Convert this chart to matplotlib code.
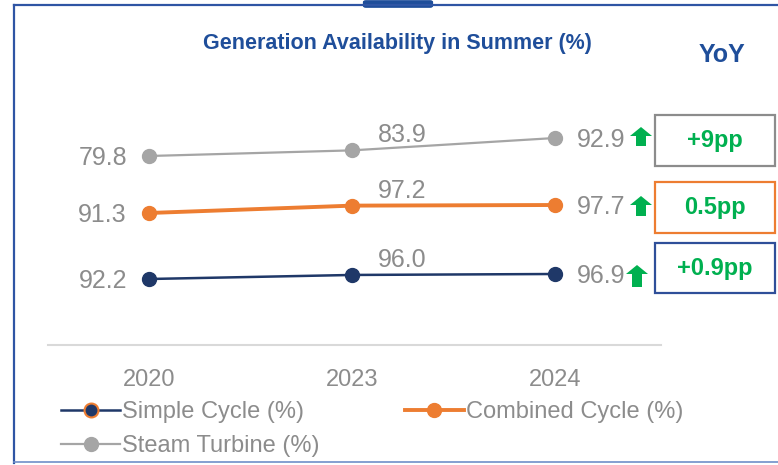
import matplotlib
matplotlib.use('Agg')
import matplotlib.pyplot as plt
from matplotlib.patches import Rectangle, Polygon, FancyBboxPatch
from matplotlib.lines import Line2D

# data
years = ['2020', '2023', '2024']
simple = [92.2, 96.0, 96.9]
combined = [91.3, 97.2, 97.7]
steam = [79.8, 83.9, 92.9]
yoy_steam = '+9pp'
yoy_combined = '0.5pp'
yoy_simple = '+0.9pp'

W, H = 778, 465
NARROW = ['Liberation Sans Narrow', 'Liberation Sans', 'DejaVu Sans']
BLUE = '#1F4E9A'
NAVY = '#1F3868'
ORANGE = '#ED7D31'
GREY = '#A5A5A5'
TXT = '#8C8C8C'
GREEN = '#00B050'

def fx(px):
    return px / W

def fy(py):
    return 1 - py / H

fig = plt.figure(figsize=(W / 100, H / 100), dpi=100)

# plot area in pixels
L, R, T, B = 48, 661, 100, 345
ax = fig.add_axes([fx(L), fy(B), fx(R) - fx(L), fy(T) - fy(B)])
x = list(range(len(years)))
# category 0 at px 149, category 2 at px 555
step = (555 - 149) / 2
ax.set_xlim(-(149 - L) / step, 2 + (R - 555) / step)

def band_limits(vals, p_first, p_last):
    # each series gets its own y scale so the three lines sit in separate bands
    s = (vals[-1] - vals[0]) / (p_first - p_last)
    return vals[0] - (B - p_first) * s, vals[0] + (p_first - T) * s

series = [
    (steam, GREY, 1.6, (156, 138)),
    (combined, ORANGE, 2.8, (213, 205)),
    (simple, NAVY, 1.8, (279, 274)),
]

axes = [ax, ax.twinx(), ax.twinx()]
for a, (vals, col, lw, rows) in zip(axes, series):
    a.set_ylim(*band_limits(vals, *rows))
    a.plot(x, vals, color=col, lw=lw, marker='o', ms=10, zorder=3)
    a.annotate(f'{vals[0]:.1f}', (0, vals[0]), xytext=(-22, -2), textcoords='offset pixels',
               ha='right', va='center', fontsize=18, color=TXT, family=NARROW)
    a.annotate(f'{vals[1]:.1f}', (1, vals[1]), xytext=(50, 15), textcoords='offset pixels',
               ha='center', va='center', fontsize=18, color=TXT, family=NARROW)
    a.annotate(f'{vals[2]:.1f}', (2, vals[2]), xytext=(22, -2), textcoords='offset pixels',
               ha='left', va='center', fontsize=18, color=TXT, family=NARROW)
    for sp in a.spines.values():
        sp.set_visible(False)
    a.set_yticks([])

ax.spines['bottom'].set_visible(True)
ax.spines['bottom'].set_color('#D9D9D9')
ax.spines['bottom'].set_linewidth(1.5)
ax.set_xticks(x)
ax.set_xticklabels(years, fontsize=17, color=TXT, family=NARROW)
ax.tick_params(axis='x', length=0, pad=17)

# legend
handles = [
    Line2D([], [], color=NAVY, lw=1.8, marker='o', ms=10, mfc=NAVY, mec=ORANGE, mew=1.5),
    Line2D([], [], color=GREY, lw=1.6, marker='o', ms=10),
    Line2D([], [], color=ORANGE, lw=2.8, marker='o', ms=10),
]
labels = ['Simple Cycle (%)', 'Steam Turbine (%)', 'Combined Cycle (%)']
leg = fig.legend(handles, labels, ncol=2, loc='upper left',
                 bbox_to_anchor=(fx(61), fy(401)), frameon=False,
                 prop={'family': NARROW, 'size': 17}, labelcolor=TXT,
                 handlelength=2.5, handletextpad=0.1, columnspacing=3.6,
                 labelspacing=0.5, borderaxespad=0, borderpad=0)

# titles
fig.text(fx(397), fy(44), 'Generation Availability in Summer (%)', ha='center', va='center',
         fontsize=15.5, fontweight='bold', color=BLUE, family=NARROW)
fig.text(fx(722), fy(55), 'YoY', ha='center', va='center',
         fontsize=18, fontweight='bold', color=BLUE, family=NARROW)

# YoY boxes with arrows
boxes = [
    (yoy_steam, '#8C8C8C', 115, 166, 641, 127, 146),
    (yoy_combined, ORANGE, 182, 233, 641, 196, 216),
    (yoy_simple, '#2F4F99', 243, 293, 637, 265, 287),
]
for txt, col, top, bot, ax_c, a_top, a_bot in boxes:
    fig.add_artist(Rectangle((fx(655), fy(bot)), fx(775) - fx(655), fy(top) - fy(bot),
                             fill=False, ec=col, lw=1.6, transform=fig.transFigure))
    fig.text(fx(715), fy((top + bot) / 2), txt, ha='center', va='center',
             fontsize=17, fontweight='bold', color=GREEN, family=NARROW)
    hw, sw, hh = 11, 5, 9
    pts = [(ax_c, a_top), (ax_c + hw, a_top + hh), (ax_c + sw, a_top + hh), (ax_c + sw, a_bot),
           (ax_c - sw, a_bot), (ax_c - sw, a_top + hh), (ax_c - hw, a_top + hh)]
    fig.add_artist(Polygon([(fx(p), fy(q)) for p, q in pts], closed=True, fc=GREEN, ec='none',
                           transform=fig.transFigure))

# frame around the card
fig.add_artist(Line2D([fx(14), fx(14)], [fy(5), fy(463)], color='#2F55A4', lw=1.6))
fig.add_artist(Line2D([fx(14), fx(778)], [fy(5), fy(5)], color='#2F55A4', lw=1.6))
fig.add_artist(Line2D([fx(14), fx(778)], [fy(462), fy(462)], color='#6F8FC8', lw=1.2))
fig.add_artist(FancyBboxPatch((fx(366), fy(6)), fx(430) - fx(366), fy(2) - fy(6),
                              boxstyle='round,pad=0.004', fc=BLUE, ec='none',
                              transform=fig.transFigure))

fig.savefig('out.png', dpi=100)
